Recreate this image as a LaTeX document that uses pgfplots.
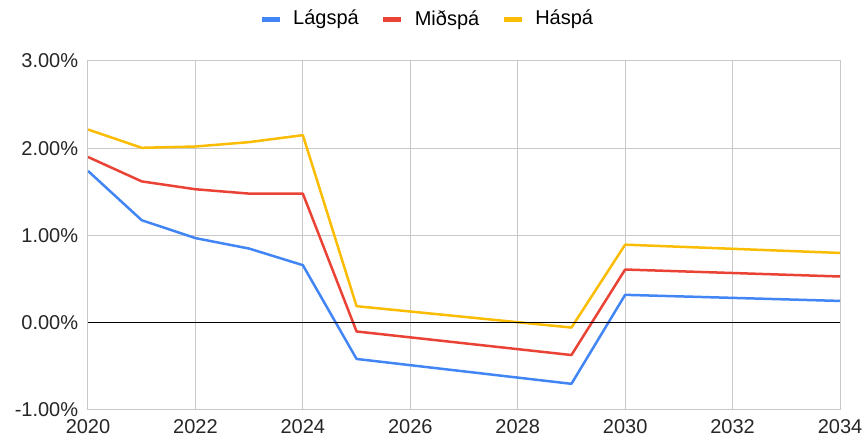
\documentclass[border=0pt]{standalone}
\usepackage{fontspec}
\setmainfont{Liberation Sans}
\usepackage{pgfplots}
\pgfplotsset{compat=1.18}
\definecolor{gblue}{HTML}{4285F4}
\definecolor{gred}{HTML}{EA4335}
\definecolor{gyellow}{HTML}{FBBC04}
\definecolor{ggrid}{HTML}{C8C8C8}
\begin{document}
\fontsize{20}{24}\selectfont
\begin{tikzpicture}
\begin{axis}[
  scale only axis,
  width=752pt, height=349pt,
  xmin=2020, xmax=2034, ymin=-1, ymax=3,
  xtick={2020,2022,...,2034},
  ytick={-1,0,1,2,3},
  xticklabel style={/pgf/number format/1000 sep={}},
  /pgf/number format/assume math mode=true,
  yticklabel={\pgfmathprintnumber[fixed,fixed zerofill,precision=2]{\tick}\%},
  grid=major,
  major grid style={ggrid, line width=1pt},
  axis line style={ggrid, line width=1pt},
  major tick length=0pt,
  tick style={draw=none},
  xticklabel style={yshift=-3pt},
  yticklabel style={xshift=-3pt},
  ticklabel style={font=\fontsize{20}{24}\selectfont, text=black!85},
  legend style={at={(0.451,1.12)}, anchor=center, draw=none, legend columns=3,
    font=\fontsize{20}{24}\selectfont,
    /tikz/every odd column/.append style={column sep=9pt},
    /tikz/every even column/.append style={column sep=20pt}},
  legend image code/.code={\draw[line width=5pt,#1] (0pt,0pt) -- (18pt,0pt);},
  every axis plot/.append style={line width=2.5pt, line join=round},
]
\addplot[gblue] coordinates {(2020,1.74) (2021,1.175) (2022,0.97) (2023,0.85) (2024,0.66) (2025,-0.415) (2029,-0.70) (2030,0.32) (2034,0.25)};
\addlegendentry{Lágspá}
\addplot[gred] coordinates {(2020,1.90) (2021,1.62) (2022,1.53) (2023,1.48) (2024,1.48) (2025,-0.10) (2029,-0.37) (2030,0.61) (2034,0.53)};
\addlegendentry{Miðspá}
\addplot[gyellow] coordinates {(2020,2.215) (2021,2.005) (2022,2.02) (2023,2.07) (2024,2.15) (2025,0.19) (2029,-0.055) (2030,0.895) (2034,0.80)};
\addlegendentry{Háspá}
\draw[black, line width=1pt] (axis cs:2020,0) -- (axis cs:2034,0);
\end{axis}
\pgfresetboundingbox
\path (current axis.south west) ++(-88pt,-36pt) rectangle ++(866pt,446pt);
\end{tikzpicture}
\end{document}
